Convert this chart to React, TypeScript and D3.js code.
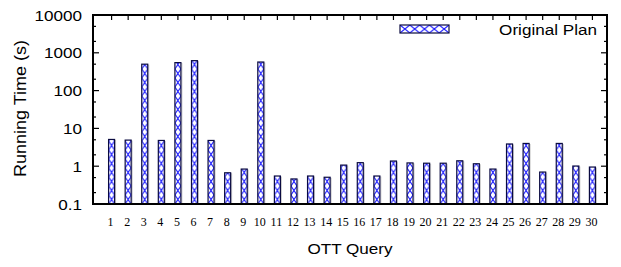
import React, { useEffect, useRef } from 'react';
import * as d3 from 'd3';

const queries = d3.range(1, 31);
const originalPlan = [
  5.1, 4.9, 500, 4.8, 550, 620, 4.8, 0.67, 0.84, 570,
  0.55, 0.46, 0.55, 0.51, 1.07, 1.24, 0.55, 1.37, 1.22, 1.2,
  1.2, 1.39, 1.16, 0.84, 3.87, 4.0, 0.7, 4.0, 1.01, 0.95,
];
const yTicks = [0.1, 1, 10, 100, 1000, 10000];
const yMinor = [0.2, 0.5, 2, 5, 20, 50, 200, 500, 2000, 5000];

const W = 621;
const H = 267;
const margin = { top: 15, right: 14, bottom: 63, left: 93 };
const sans = 'Liberation Sans, Arial, Helvetica, sans-serif';
const serif = 'Liberation Serif, Times New Roman, serif';
const stretch = 1.14;

const App = () => {
  const svgRef = useRef<SVGSVGElement>(null);

  useEffect(() => {
    const svg = d3.select(svgRef.current);
    svg.selectAll('*').remove();

    const x = d3.scaleLinear().domain([0, 31]).range([margin.left, W - margin.right]);
    const y = d3.scaleLog().domain([0.1, 10000]).range([H - margin.bottom, margin.top]);
    const bw = 6;
    const defs = svg.append('defs');

    const addPattern = (id: string, px: number, py: number, pw: number, ph: number) => {
      const p = defs.append('pattern')
        .attr('id', id)
        .attr('patternUnits', 'userSpaceOnUse')
        .attr('x', px).attr('y', py)
        .attr('width', pw).attr('height', ph);
      p.append('rect').attr('width', pw).attr('height', ph).attr('fill', 'white');
      p.append('path')
        .attr('d', `M0,0L${pw},${ph}M${pw},0L0,${ph}`)
        .attr('stroke', '#1a1aff').attr('stroke-width', 1.1).attr('fill', 'none');
    };

    const bars = svg.append('g');
    originalPlan.forEach((v, i) => {
      const cx = x(queries[i]) + 2;
      const x0 = cx - bw / 2;
      const top = y(v);
      const bottom = y(0.1);
      addPattern(`pat${i}`, x0, bottom, bw, 9);
      bars.append('rect')
        .attr('x', x0 + 1).attr('y', top + 1)
        .attr('width', bw).attr('height', bottom - top - 1)
        .attr('fill', 'none').attr('stroke', '#c8c8c8').attr('stroke-width', 1);
      bars.append('rect')
        .attr('x', x0).attr('y', top)
        .attr('width', bw).attr('height', bottom - top)
        .attr('fill', `url(#pat${i})`)
        .attr('stroke', '#0a0a40').attr('stroke-width', 1.2);
    });

    // frame ticks
    const left = margin.left, right = W - margin.right;
    const topY = margin.top, botY = H - margin.bottom;
    const ticks = svg.append('g').attr('stroke', 'black').attr('stroke-width', 1.2);
    yTicks.forEach(t => {
      ticks.append('line').attr('x1', left).attr('x2', left + 6).attr('y1', y(t)).attr('y2', y(t));
      ticks.append('line').attr('x1', right).attr('x2', right - 6).attr('y1', y(t)).attr('y2', y(t));
    });
    yMinor.forEach(t => {
      ticks.append('line').attr('x1', left).attr('x2', left + 3).attr('y1', y(t)).attr('y2', y(t));
      ticks.append('line').attr('x1', right).attr('x2', right - 3).attr('y1', y(t)).attr('y2', y(t));
    });
    queries.forEach(q => {
      ticks.append('line').attr('x1', x(q) + 2).attr('x2', x(q) + 2).attr('y1', topY).attr('y2', topY + 5);
    });

    svg.append('rect')
      .attr('x', left).attr('y', topY)
      .attr('width', right - left).attr('height', botY - topY)
      .attr('fill', 'none').attr('stroke', 'black').attr('stroke-width', 2);

    // y labels
    svg.append('g').selectAll('text').data(yTicks).join('text')
      .attr('transform', d => `translate(${left - 11},${y(d) + 5.5}) scale(${stretch},1)`)
      .attr('text-anchor', 'end')
      .attr('font-family', sans).attr('font-size', 15)
      .text(d => String(d));

    // x labels
    svg.append('g').selectAll('text').data(queries).join('text')
      .attr('x', d => x(d) + 1).attr('y', 226)
      .attr('text-anchor', 'middle')
      .attr('font-family', serif).attr('font-size', 12)
      .text(d => String(d));

    svg.append('text')
      .attr('transform', `translate(350,254) scale(${stretch},1)`)
      .attr('text-anchor', 'middle')
      .attr('font-family', sans).attr('font-size', 15)
      .text('OTT Query');

    svg.append('text')
      .attr('transform', `translate(26,${(topY + botY) / 2 - 1}) rotate(-90) scale(1.2,1.1)`)
      .attr('text-anchor', 'middle')
      .attr('font-family', sans).attr('font-size', 15)
      .text('Running Time (s)');

    // legend
    addPattern('patLeg', 400, 25, 9.8, 8);
    svg.append('rect')
      .attr('x', 400).attr('y', 25).attr('width', 49).attr('height', 8)
      .attr('fill', 'url(#patLeg)').attr('stroke', '#0a0a40').attr('stroke-width', 1.2);
    svg.append('text')
      .attr('transform', `translate(597,35) scale(${stretch},1)`)
      .attr('text-anchor', 'end')
      .attr('font-family', sans).attr('font-size', 15)
      .text('Original Plan');
  }, []);

  return (
    <svg ref={svgRef} width={W} height={H} style={{ position: 'absolute', left: 0, top: 0 }}></svg>
  );
};

export default App;
